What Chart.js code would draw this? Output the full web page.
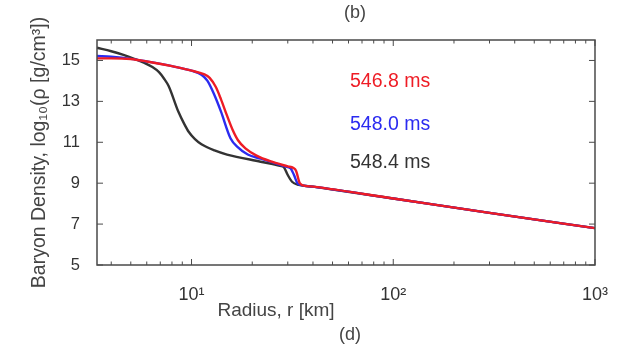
<!DOCTYPE html>
<html>
<head>
<meta charset="utf-8">
<script src="https://cdn.jsdelivr.net/npm/chart.js@4/dist/chart.umd.min.js"></script>
<style>
  html, body { margin: 0; padding: 0; background: #fff; }
  #wrap { width: 619px; height: 349px; position: relative; }
</style>
</head>
<body>
<div id="wrap"><canvas id="c" width="619" height="349"></canvas></div>
<script>
// ---- data (radius in km, log10 baryon density in g/cm^3) ----
const seriesLabels = ['546.8 ms', '548.0 ms', '548.4 ms'];

const rRed   = [3.4, 4, 5, 6, 8, 10, 11.5, 12.3, 13.2, 14, 15, 16, 17, 18.5, 21, 25, 30, 32, 33, 34.4, 36.5, 40, 100, 300, 1000];
const rhoRed = [15.1, 15.1, 15.07, 14.95, 14.72, 14.5, 14.33, 14.15, 13.7, 13.1, 12.3, 11.6, 11.1, 10.7, 10.35, 10.05, 9.82, 9.74, 9.6, 9.0, 8.87, 8.83, 8.25, 7.55, 6.8];

const rBlue   = [3.4, 4, 5, 6, 8, 10, 11.2, 12, 13, 14, 15.6, 17, 19, 22, 25, 29, 31, 32.2, 33.5, 36, 40, 100, 300, 1000];
const rhoBlue = [15.22, 15.18, 15.08, 14.95, 14.72, 14.5, 14.3, 14.0, 13.3, 12.5, 11.2, 10.75, 10.4, 10.2, 10.03, 9.82, 9.72, 9.4, 9.0, 8.88, 8.83, 8.25, 7.55, 6.8];

const rBlack   = [3.4, 4, 4.6, 5.2, 5.8, 6.4, 6.9, 7.3, 7.7, 8.6, 9.2, 9.7, 10.4, 11.2, 13, 15, 22, 27.5, 28.7, 30, 31.5, 34, 40, 100, 300, 1000];
const rhoBlack = [15.62, 15.45, 15.27, 15.08, 14.89, 14.68, 14.43, 14.12, 13.75, 12.5, 11.9, 11.5, 11.15, 10.9, 10.6, 10.4, 10.05, 9.85, 9.78, 9.4, 9.07, 8.92, 8.83, 8.25, 7.55, 6.8];

const xTickValues = [4,5,6,7,8,9,10,20,30,40,50,60,70,80,90,100,200,300,400,500,600,700,800,900,1000];
const xTickLabels = { 10: '10\u00B9', 100: '10\u00B2', 1000: '10\u00B3' };
const yTickValues = [5, 7, 9, 11, 13, 15];

const colors = ['#ee1c25', '#2b2bf0', '#333333'];

function pts(xs, ys) { return xs.map((x, i) => ({ x: x, y: ys[i] })); }

const FONT = "'Liberation Sans', Arial, Helvetica, sans-serif";

const framePlugin = {
  id: 'frame',
  afterDatasetsDraw(chart) {
    const { ctx, chartArea: a, scales } = chart;
    ctx.save();
    ctx.strokeStyle = '#4a4a4a';
    ctx.lineWidth = 1.5;
    ctx.strokeRect(a.left, a.top, a.right - a.left, a.bottom - a.top);
    ctx.lineWidth = 1;
    xTickValues.forEach(v => {
      const px = scales.x.getPixelForValue(v);
      const len = xTickLabels[v] ? 6 : 3.5;
      ctx.beginPath();
      ctx.moveTo(px, a.bottom); ctx.lineTo(px, a.bottom - len);
      ctx.moveTo(px, a.top); ctx.lineTo(px, a.top + len);
      ctx.stroke();
    });
    yTickValues.forEach(v => {
      const py = scales.y.getPixelForValue(v);
      ctx.beginPath();
      ctx.moveTo(a.left, py); ctx.lineTo(a.left + 6, py);
      ctx.moveTo(a.right, py); ctx.lineTo(a.right - 6, py);
      ctx.stroke();
    });
    ctx.font = '19.5px ' + FONT;
    ctx.textBaseline = 'middle';
    ctx.textAlign = 'left';
    const ly = [82, 125, 163];
    seriesLabels.forEach((t, i) => {
      ctx.fillStyle = colors[i];
      ctx.fillText(t, 350, ly[i]);
    });
    ctx.fillStyle = '#444';
    ctx.textAlign = 'center';
    ctx.font = '18px ' + FONT;
    ctx.fillText('(b)', 355, 13);
    ctx.fillText('(d)', 350, 335);
    ctx.font = '19px ' + FONT;
    ctx.fillText('Radius, r [km]', 276, 311);
    ctx.restore();
  }
};

new Chart(document.getElementById('c'), {
  type: 'scatter',
  data: {
    datasets: [
      { label: seriesLabels[0], data: pts(rRed, rhoRed), borderColor: colors[0] },
      { label: seriesLabels[1], data: pts(rBlue, rhoBlue), borderColor: colors[1] },
      { label: seriesLabels[2], data: pts(rBlack, rhoBlack), borderColor: colors[2] }
    ].map(d => Object.assign(d, {
      showLine: true, pointRadius: 0, borderWidth: 2.4, fill: false,
      cubicInterpolationMode: 'monotone'
    }))
  },
  options: {
    responsive: false,
    animation: false,
    layout: { padding: { left: 0, right: 16, top: 40, bottom: 0 } },
    plugins: { legend: { display: false }, tooltip: { enabled: false } },
    scales: {
      x: {
        type: 'logarithmic',
        min: 3.4, max: 1000,
        afterBuildTicks(scale) { scale.ticks = xTickValues.map(v => ({ value: v })); },
        afterFit(scale) { scale.height = 84; },
        grid: { display: false },
        border: { display: false },
        ticks: {
          autoSkip: false, maxRotation: 0, padding: 11,
          color: '#333', font: { family: FONT, size: 18 },
          callback(v) { return xTickLabels[v] || ''; }
        }
      },
      y: {
        min: 5, max: 16,
        afterBuildTicks(scale) { scale.ticks = yTickValues.map(v => ({ value: v })); },
        afterFit(scale) { scale.width = 97; },
        grid: { display: false },
        border: { display: false },
        title: {
          display: true,
          text: 'Baryon Density, log\u2081\u2080(\u03C1 [g/cm\u00B3])',
          color: '#444', font: { family: FONT, size: 19.5 }, padding: { top: 28, bottom: 0 }
        },
        ticks: {
          padding: 9, color: '#333', font: { family: FONT, size: 16.5 }
        }
      }
    }
  },
  plugins: [framePlugin]
});
</script>
</body>
</html>
